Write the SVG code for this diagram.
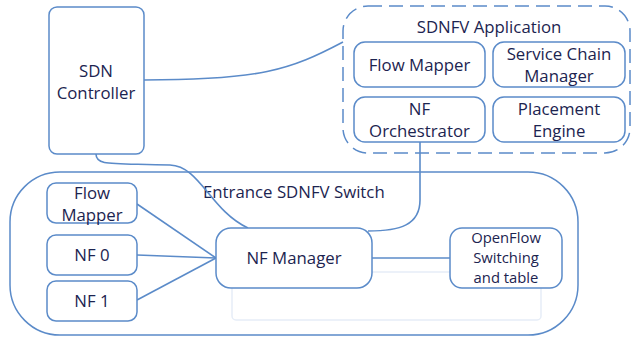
<svg xmlns="http://www.w3.org/2000/svg" width="633" height="337" viewBox="0 0 633 337">
<style>
.box{fill:#fff;stroke:#5b8bc9;stroke-width:1.5}
.dash{fill:none;stroke:#5b8bc9;stroke-width:1.5;stroke-dasharray:14 7}
.ghost{fill:none;stroke:#e6edf7;stroke-width:1.5}
.c{fill:none;stroke:#5b8bc9;stroke-width:1.6}
text{font-family:"Open Sans","Liberation Sans",sans-serif;font-size:16.8px;fill:#1c2450;text-anchor:middle}
.s{font-size:14.8px}
</style>
<rect width="633" height="337" fill="#fff"/>
<g id="switch"><rect class="box" x="10" y="172" width="568" height="163" rx="50"/><text x="203" y="198" style="text-anchor:start">Entrance SDNFV Switch</text></g>
<rect class="ghost" x="232" y="272" width="309" height="48" rx="4"/>
<g id="app"><rect class="dash" x="343" y="6" width="287" height="147" rx="25"/><text x="489" y="33">SDNFV Application</text></g>
<g id="connectors">
<path class="c" d="M144,80 C260,80 290,70 343,42"/>
<path class="c" d="M96,154 C96,166 110,163 170,165 C200,166 210,210 248,228"/>
<path class="c" d="M420,142 L420,200 C420,225 400,231 368,231"/>
<path class="c" d="M137,204 L216,258"/>
<path class="c" d="M137,255 L216,258"/>
<path class="c" d="M137,300 L216,258"/>
<path class="c" d="M372,258 L450,258"/>
</g>
<g id="sdn"><rect class="box" x="49" y="7" width="95" height="147" rx="8"/><text x="96" y="77">SDN</text><text x="96" y="99">Controller</text></g>
<g id="flowmapper1"><rect class="box" x="354" y="42" width="131" height="45" rx="11"/><text x="419.5" y="71">Flow Mapper</text></g>
<g id="scm"><rect class="box" x="493" y="42" width="132" height="45" rx="11"/><text x="559" y="60">Service Chain</text><text x="559" y="82">Manager</text></g>
<g id="orch"><rect class="box" x="354" y="97" width="131" height="45" rx="11"/><text x="419.5" y="115">NF</text><text x="419.5" y="137">Orchestrator</text></g>
<g id="placement"><rect class="box" x="493" y="97" width="132" height="45" rx="11"/><text x="559" y="115">Placement</text><text x="559" y="137">Engine</text></g>
<g id="flowmapper2"><rect class="box" x="47" y="183" width="90" height="40" rx="9"/><text x="92" y="199">Flow</text><text x="92" y="221">Mapper</text></g>
<g id="nf0"><rect class="box" x="47" y="235" width="90" height="40" rx="9"/><text x="92" y="261">NF 0</text></g>
<g id="nf1"><rect class="box" x="47" y="281" width="90" height="40" rx="9"/><text x="92" y="307">NF 1</text></g>
<g id="nfmanager"><rect class="box" x="216" y="228" width="156" height="60" rx="15"/><text x="294" y="264">NF Manager</text></g>
<g id="openflow"><rect class="box" x="450" y="228" width="112" height="60" rx="12"/><text class="s" x="506" y="243">OpenFlow</text><text class="s" x="506" y="263">Switching</text><text class="s" x="506" y="283">and table</text></g>
</svg>
